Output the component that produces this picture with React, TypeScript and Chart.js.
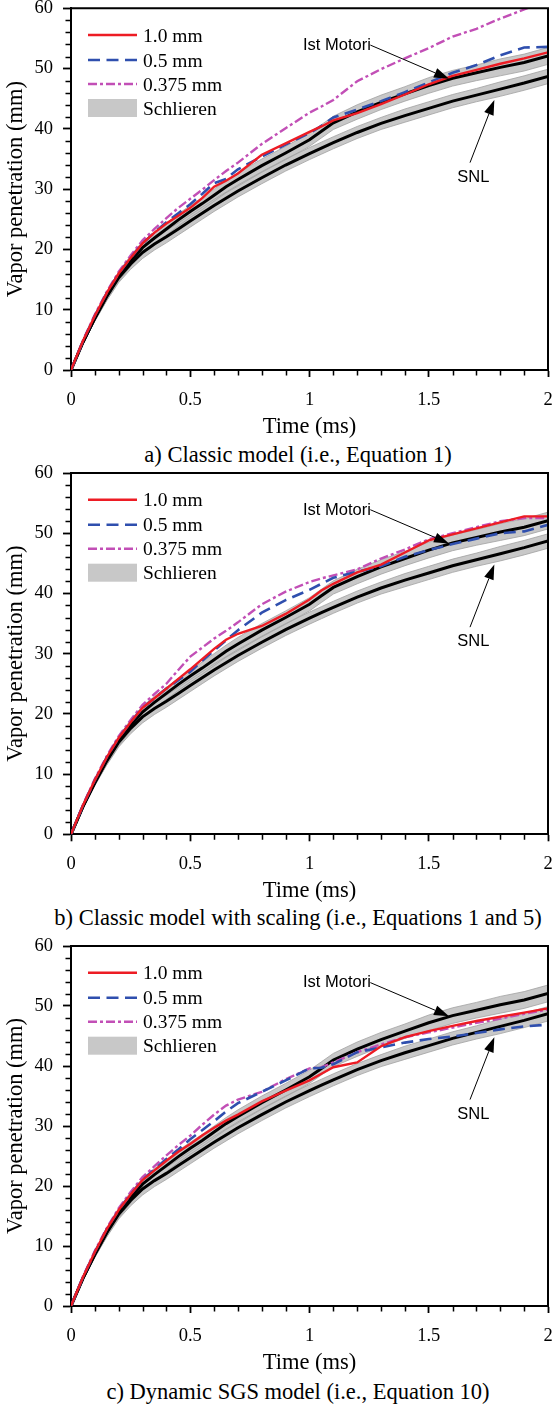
import React, { useEffect, useRef } from 'react';
import { Chart, registerables } from 'chart.js';

Chart.register(...registerables);

// ---------------- data ----------------
const TIME = [0, 0.05, 0.1, 0.15, 0.2, 0.25, 0.3, 0.35, 0.4, 0.45, 0.5, 0.55, 0.6, 0.65, 0.7, 0.8, 0.9, 1.0, 1.05, 1.1, 1.2, 1.3, 1.4, 1.5, 1.6, 1.7, 1.8, 1.9, 2.0];

// Schlieren measurements (same in all panels)
const IST_MOTORI = [0, 4.6, 8.6, 12.3, 15.5, 18.1, 20.3, 21.9, 23.4, 24.9, 26.3, 27.6, 29.0, 30.4, 31.6, 33.9, 36.0, 38.2, 39.6, 41.0, 42.8, 44.4, 45.8, 47.2, 48.4, 49.3, 50.2, 51.0, 52.1];
const IST_MOTORI_HALF = [0, 0.3, 0.5, 0.7, 0.8, 0.9, 1.0, 1.0, 1.0, 1.0, 1.0, 1.0, 1.0, 1.0, 1.1, 1.1, 1.1, 1.1, 1.1, 1.1, 1.2, 1.2, 1.2, 1.3, 1.3, 1.3, 1.4, 1.4, 1.4];
const SNL = [0, 4.6, 8.6, 12.2, 15.3, 17.6, 19.5, 20.9, 22.1, 23.4, 24.7, 26.0, 27.3, 28.5, 29.7, 31.9, 34.0, 35.9, 36.8, 37.7, 39.4, 40.9, 42.2, 43.4, 44.6, 45.6, 46.6, 47.6, 48.7];
const SNL_HALF = [0, 0.3, 0.5, 0.7, 0.8, 0.9, 1.0, 1.0, 1.0, 1.0, 1.0, 1.0, 1.0, 1.0, 1.0, 1.0, 1.0, 1.0, 1.0, 1.0, 1.0, 1.0, 1.1, 1.1, 1.1, 1.1, 1.2, 1.2, 1.2];

// a) Classic model
const A_1MM = [0, 4.8, 9.0, 12.8, 16.0, 18.6, 21.0, 22.8, 24.3, 25.6, 26.9, 28.5, 30.4, 31.4, 32.6, 35.7, 37.6, 39.5, 40.4, 41.4, 42.6, 44.1, 45.7, 47.4, 48.8, 49.8, 50.8, 51.7, 52.7];
const A_05MM = [0, 4.8, 9.0, 12.8, 16.0, 18.6, 21.0, 22.8, 24.5, 26.0, 27.5, 29.2, 31.0, 31.7, 33.3, 35.4, 37.4, 39.3, 40.5, 41.9, 43.2, 44.6, 46.1, 47.7, 49.3, 50.6, 52.2, 53.5, 53.6];
const A_0375MM = [0, 4.9, 9.2, 13.0, 16.3, 19.0, 21.5, 23.4, 25.2, 26.9, 28.4, 29.9, 31.5, 33.0, 34.4, 37.5, 40.1, 42.7, 43.7, 44.8, 47.9, 49.9, 51.7, 53.4, 55.3, 56.6, 58.3, 59.8, 61.5];

// b) Classic model with scaling
const B_1MM = [0, 4.8, 9.0, 12.8, 16.0, 18.6, 21.0, 22.6, 24.2, 25.8, 27.4, 29.1, 30.8, 32.3, 33.3, 34.6, 36.6, 39.0, 40.5, 41.6, 43.5, 44.8, 46.8, 48.8, 49.8, 50.8, 51.8, 52.8, 52.8];
const B_05MM = [0, 4.8, 9.0, 12.8, 16.0, 18.6, 21.0, 22.6, 24.2, 25.6, 27.0, 28.8, 30.5, 32.2, 33.9, 36.8, 38.9, 40.6, 41.6, 42.6, 43.6, 44.5, 46.1, 47.2, 48.2, 49.1, 50.0, 50.3, 51.4];
const B_0375MM = [0, 4.9, 9.2, 13.0, 16.3, 19.0, 21.5, 23.3, 25.0, 27.3, 29.5, 31.0, 32.5, 33.8, 35.2, 38.2, 40.3, 41.9, 42.5, 43.0, 44.0, 45.8, 47.3, 49.0, 50.0, 51.0, 52.0, 52.5, 52.5];

// c) Dynamic SGS model
const C_1MM = [0, 4.8, 9.0, 12.8, 16.0, 18.6, 21.0, 22.6, 24.2, 25.7, 27.0, 28.4, 29.7, 30.9, 31.9, 34.1, 35.9, 37.6, 38.7, 39.8, 40.6, 43.3, 44.8, 45.8, 46.7, 47.5, 48.2, 48.9, 49.6];
const C_05MM = [0, 4.8, 9.0, 12.8, 16.0, 18.6, 21.0, 22.8, 24.5, 26.1, 27.8, 29.3, 30.8, 32.4, 33.8, 35.7, 37.6, 39.6, 39.7, 40.3, 42.3, 43.1, 43.9, 44.5, 44.9, 45.5, 46.1, 46.6, 46.9];
const C_0375MM = [0, 4.9, 9.2, 13.0, 16.3, 19.0, 21.5, 23.3, 25.1, 26.8, 28.4, 30.2, 31.9, 33.4, 34.4, 35.7, 37.8, 39.6, 39.8, 40.6, 42.3, 43.6, 44.8, 45.6, 46.4, 47.2, 47.9, 48.7, 49.4];

const X_TICKS = [0, 0.5, 1, 1.5, 2];
const Y_TICKS = [0, 10, 20, 30, 40, 50, 60];
const LEGEND_LABELS = ['1.0 mm', '0.5 mm', '0.375 mm', 'Schlieren'];
const CAPTIONS = [
  'a) Classic model (i.e., Equation 1)',
  'b) Classic model with scaling (i.e., Equations 1 and 5)',
  'c) Dynamic SGS model (i.e., Equation 10)',
];
const ANNOTATIONS = [
  { text: 'Ist Motori', label: [1.115, 53.85], from: [1.255, 53.9], to: [1.585, 48.3] },
  { text: 'SNL', label: [1.687, 32.0], from: [1.673, 34.4], to: [1.775, 44.8] },
];
const PANEL_SERIES = [
  [A_1MM, A_05MM, A_0375MM],
  [B_1MM, B_05MM, B_0375MM],
  [C_1MM, C_05MM, C_0375MM],
];

// ---------------- styles / layout ----------------
const SERIF = "'Liberation Serif', 'Times New Roman', serif";
const SANS = "'Liberation Sans', Arial, sans-serif";
const RED = '#ed1c24';
const BLUE = '#2f4fae';
const MAGENTA = '#c24fb6';
const BAND = '#c8c8c8';
const BAND_EDGE = '#a2a2a2';
const W = 553;
const X_SCALE_H = 70.5;
const PANEL_LAYOUT = [
  { top: 0, height: 467, padTop: 8.3, padBottom: 26.5, captionY: 454 },
  { top: 455, height: 483, padTop: 18, padBottom: 33.2, captionY: 917 },
  { top: 926, height: 479, padTop: 20, padBottom: 28.5, captionY: 1391 },
];

const pts = (vals: number[]) => TIME.map((t, i) => ({ x: t, y: vals[i] }));
const band = (c: number[], h: number[], sign: number) => TIME.map((t, i) => ({ x: t, y: c[i] + sign * h[i] }));

const decorPlugin = {
  id: 'decor',
  afterDatasetsDraw(chart: any) {
    const { ctx, chartArea: a, scales } = chart;
    const xs = scales.x;
    const ys = scales.y;
    ctx.save();
    // frame (top and right)
    ctx.strokeStyle = '#000';
    ctx.lineWidth = 2;
    ctx.beginPath();
    ctx.moveTo(a.left, a.top);
    ctx.lineTo(a.right, a.top);
    ctx.lineTo(a.right, a.bottom);
    ctx.stroke();
    // minor ticks
    ctx.lineWidth = 1.5;
    ctx.beginPath();
    for (let i = 0; i <= 20; i++) {
      if (i % 5 === 0) continue;
      const px = Math.round(xs.getPixelForValue(i / 10)) + 0.5;
      ctx.moveTo(px, a.bottom);
      ctx.lineTo(px, a.bottom + 5.5);
    }
    for (let v = 0; v <= 60; v += 2) {
      if (v % 10 === 0) continue;
      const py = Math.round(ys.getPixelForValue(v)) + 0.5;
      ctx.moveTo(a.left - 5.5, py);
      ctx.lineTo(a.left, py);
    }
    ctx.stroke();

    // legend
    const ds = chart.data.datasets;
    const x0 = a.left + 17;
    const x1 = a.left + 66;
    const rows = [26.7, 51.7, 75.7, 99.7];
    ctx.font = `19.5px ${SERIF}`;
    ctx.textBaseline = 'middle';
    ctx.textAlign = 'left';
    for (let i = 0; i < 4; i++) {
      const y = a.top + rows[i];
      if (i < 3) {
        const d = ds[i];
        ctx.strokeStyle = d.borderColor;
        ctx.lineWidth = d.borderWidth;
        ctx.setLineDash(d.borderDash || []);
        ctx.beginPath();
        ctx.moveTo(x0, y);
        ctx.lineTo(x1, y);
        ctx.stroke();
        ctx.setLineDash([]);
      } else {
        ctx.fillStyle = BAND;
        ctx.fillRect(x0, y - 9, x1 - x0, 18);
      }
      ctx.fillStyle = '#000';
      ctx.fillText(LEGEND_LABELS[i], a.left + 72, y + 1.5);
    }

    // annotations
    ctx.font = `16.5px ${SANS}`;
    ctx.textAlign = 'center';
    ctx.textBaseline = 'middle';
    for (const an of ANNOTATIONS) {
      const lx = xs.getPixelForValue(an.label[0]);
      const ly = ys.getPixelForValue(an.label[1]);
      ctx.fillStyle = '#000';
      ctx.fillText(an.text, lx, ly);
      const fx = xs.getPixelForValue(an.from[0]);
      const fy = ys.getPixelForValue(an.from[1]);
      const tx = xs.getPixelForValue(an.to[0]);
      const ty = ys.getPixelForValue(an.to[1]);
      const ang = Math.atan2(ty - fy, tx - fx);
      const hl = 15;
      const hw = 5;
      const bx = tx - hl * Math.cos(ang);
      const by = ty - hl * Math.sin(ang);
      ctx.strokeStyle = '#000';
      ctx.lineWidth = 1;
      ctx.beginPath();
      ctx.moveTo(fx, fy);
      ctx.lineTo(bx, by);
      ctx.stroke();
      ctx.beginPath();
      ctx.moveTo(tx, ty);
      ctx.lineTo(bx + hw * Math.sin(ang), by - hw * Math.cos(ang));
      ctx.lineTo(bx - hw * Math.sin(ang), by + hw * Math.cos(ang));
      ctx.closePath();
      ctx.fill();
    }
    ctx.restore();
  },
};

function Panel({ index }: { index: number }) {
  const ref = useRef<HTMLCanvasElement | null>(null);
  const L = PANEL_LAYOUT[index];
  useEffect(() => {
    if (!ref.current) return;
    const [r, b, m] = PANEL_SERIES[index];
    const line = (label: string, vals: number[], color: string, width: number, dash: number[]) => ({
      label,
      data: pts(vals),
      borderColor: color,
      borderWidth: width,
      borderDash: dash,
      pointRadius: 0,
      fill: false,
      tension: 0,
      borderCapStyle: 'butt',
    });
    const chart = new Chart(ref.current, {
      type: 'line',
      data: {
        datasets: [
          line('1.0 mm', r, RED, 2.4, []),
          line('0.5 mm', b, BLUE, 2.6, [12, 6.5]),
          line('0.375 mm', m, MAGENTA, 2.4, [9, 3, 3, 3]),
          line('Ist Motori', IST_MOTORI, '#000', 3, []),
          line('SNL', SNL, '#000', 3, []),
          { label: 'Ist Motori upper', data: band(IST_MOTORI, IST_MOTORI_HALF, 1), borderColor: BAND_EDGE, borderWidth: 0.8, backgroundColor: BAND, fill: 6, pointRadius: 0, tension: 0 },
          { label: 'Ist Motori lower', data: band(IST_MOTORI, IST_MOTORI_HALF, -1), borderColor: BAND_EDGE, borderWidth: 0.8, fill: false, pointRadius: 0, tension: 0 },
          { label: 'SNL upper', data: band(SNL, SNL_HALF, 1), borderColor: BAND_EDGE, borderWidth: 0.8, backgroundColor: BAND, fill: 8, pointRadius: 0, tension: 0 },
          { label: 'SNL lower', data: band(SNL, SNL_HALF, -1), borderColor: BAND_EDGE, borderWidth: 0.8, fill: false, pointRadius: 0, tension: 0 },
        ] as any,
      },
      options: {
        responsive: false,
        animation: false,
        devicePixelRatio: 1,
        events: [],
        layout: { padding: { left: 0, right: 5, top: L.padTop, bottom: L.padBottom } },
        plugins: {
          legend: { display: false },
          tooltip: { enabled: false },
          filler: { drawTime: 'beforeDatasetsDraw' },
        },
        scales: {
          x: {
            type: 'linear',
            min: 0,
            max: 2,
            afterBuildTicks: (s: any) => { s.ticks = X_TICKS.map((v) => ({ value: v })); },
            afterFit: (s: any) => { s.height = X_SCALE_H; s.paddingLeft = 0; s.paddingRight = 0; },
            ticks: {
              autoSkip: false,
              maxRotation: 0,
              padding: 12,
              color: '#000',
              font: { family: SERIF, size: 18.5, lineHeight: 1.2 },
              callback: (v: any) => String(v),
            },
            grid: { drawOnChartArea: false, drawTicks: true, tickLength: 7, tickWidth: 1.8, tickColor: '#000' },
            border: { display: true, color: '#000', width: 2 },
            title: { display: true, text: 'Time (ms)', color: '#000', font: { family: SERIF, size: 22.5, lineHeight: 1.2 }, padding: { top: 0, bottom: 0 } },
          },
          y: {
            type: 'linear',
            min: 0,
            max: 60,
            afterBuildTicks: (s: any) => { s.ticks = Y_TICKS.map((v) => ({ value: v })); },
            afterFit: (s: any) => { s.width = 71; s.paddingTop = 0; s.paddingBottom = 0; },
            ticks: {
              autoSkip: false,
              padding: 10,
              color: '#000',
              font: { family: SERIF, size: 18.5, lineHeight: 1.2 },
              callback: (v: any) => String(v),
            },
            grid: { drawOnChartArea: false, drawTicks: true, tickLength: 8, tickWidth: 1.8, tickColor: '#000' },
            border: { display: true, color: '#000', width: 2 },
            title: { display: true, text: 'Vapor penetration (mm)', color: '#000', font: { family: SERIF, size: 22.5, lineHeight: 1.2 }, padding: { top: 2.5, bottom: 0 } },
          },
        },
      } as any,
      plugins: [decorPlugin],
    });
    return () => chart.destroy();
  }, [index]);

  return (
    <>
      <div
        style={{
          position: 'absolute',
          left: 298,
          top: L.captionY - 13.5,
          transform: 'translateX(-50%)',
          whiteSpace: 'nowrap',
          fontFamily: SERIF,
          fontSize: 22.5,
          lineHeight: '27px',
          color: '#000',
        }}
      >
        {CAPTIONS[index]}
      </div>
      <canvas
        ref={ref}
        width={W}
        height={L.height}
        style={{ position: 'absolute', left: 0, top: L.top, width: W, height: L.height, display: 'block' }}
      />
    </>
  );
}

export default function App() {
  return (
    <div style={{ position: 'absolute', left: 0, top: 0, width: W, height: 1405, overflow: 'hidden', background: '#fff' }}>
      <Panel index={0} />
      <Panel index={1} />
      <Panel index={2} />
    </div>
  );
}
